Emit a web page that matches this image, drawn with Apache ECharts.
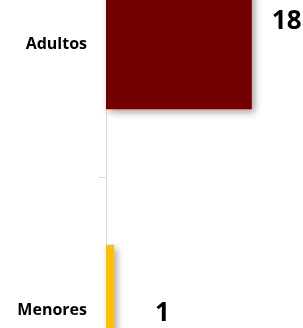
<!DOCTYPE html>
<html>
<head>
<meta charset="utf-8">
<script src="https://cdn.jsdelivr.net/npm/echarts@6/dist/echarts.min.js"></script>
<style>
  html, body { margin: 0; padding: 0; background: #fff; }
  #chart { width: 303px; height: 328px; }
</style>
</head>
<body>
<div id="chart"></div>
<script>
// datos
var categorias = ["Adultos", "Menores"];
var valores = [18, 1];
var colores = ["#720000", "#FFC000"];

var myChart = echarts.init(document.getElementById("chart"));

var option = {
  animation: false,
  grid: { left: 106, right: 35, top: -89, bottom: -115, outerBoundsMode: "none" },
  xAxis: {
    type: "value",
    min: 0,
    max: 20,
    show: false
  },
  yAxis: {
    type: "category",
    inverse: true,
    data: categorias,
    axisLine: { show: true, lineStyle: { color: "#d9d9d9", width: 1 } },
    axisTick: { show: true, length: 7, lineStyle: { color: "#d9d9d9" } },
    axisLabel: {
      margin: 19,
      fontFamily: "Open Sans",
      fontWeight: "bold",
      fontSize: 16,
      color: "#000"
    }
  },
  series: [
    {
      type: "bar",
      barCategoryGap: "51%",
      data: valores.map(function (v, i) {
        return {
          value: v,
          itemStyle: { color: colores[i] },
          label: i === 0 ? { distance: 20, offset: [0, -22] } : { distance: 41, offset: [0, 4] }
        };
      }),
      itemStyle: {
        shadowColor: "rgba(0,0,0,0.35)",
        shadowBlur: 7,
        shadowOffsetX: 3,
        shadowOffsetY: 4
      },
      label: {
        show: true,
        position: "right",
        fontFamily: "Open Sans",
        fontWeight: "bold",
        fontSize: 26,
        color: "#000"
      }
    }
  ]
};

myChart.setOption(option);
</script>
</body>
</html>
